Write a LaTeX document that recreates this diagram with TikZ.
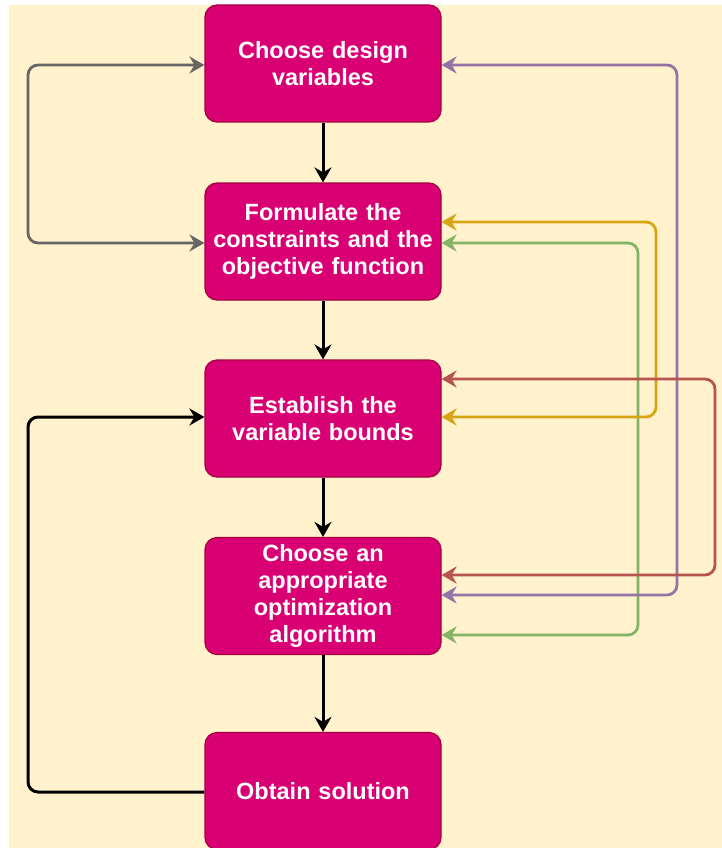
\documentclass[tikz,border=0pt]{standalone}
\usepackage{fontspec}
\setmainfont{Liberation Sans}
\usetikzlibrary{arrows.meta}

\definecolor{paper}{HTML}{FFF2CC}
\definecolor{boxfill}{HTML}{D80073}
\definecolor{boxedge}{HTML}{A50040}
\definecolor{loopgray}{HTML}{666666}
\definecolor{loopviolet}{HTML}{9673A6}
\definecolor{loopgold}{HTML}{D7A514}
\definecolor{loopgreen}{HTML}{82B366}
\definecolor{looprust}{HTML}{B85450}

\tikzset{
  stepbox/.style={rectangle, rounded corners=12pt, fill=boxfill, draw=boxedge,
    line width=1.2pt, minimum width=236pt, minimum height=117pt, inner sep=0pt,
    text width=232pt, align=center, text=white,
    font=\bfseries\fontsize{23.5}{27}\selectfont},
  tip/.tip={Stealth[length=15pt, width=17pt, inset=5pt]},
  flow/.style={line width=3pt, black, -tip},
  feedback/.style={line width=2.8pt, rounded corners=10pt, tip-tip},
}

\begin{document}
\begin{tikzpicture}[x=1pt, y=-1pt]
  \clip (0,0) rectangle (722,848);
  \fill[white] (0,0) rectangle (722,848);
  \fill[paper] (9,5) rectangle (722,848);

  % process steps
  \node[stepbox] (b1) at (323,63.5) {Choose design\\variables};
  \node[stepbox] (b2) at (323,241.5) {Formulate the\\constraints and the\\objective function};
  \node[stepbox] (b3) at (323,418.5) {Establish the\\variable bounds};
  \node[stepbox] (b4) at (323,596) {Choose an\\appropriate\\optimization\\algorithm};
  \node[stepbox] (b5) at (323,791) {Obtain solution};

  % main flow
  \draw[flow] (b1.south) -- (b2.north);
  \draw[flow] (b2.south) -- (b3.north);
  \draw[flow] (b3.south) -- (b4.north);
  \draw[flow] (b4.south) -- (b5.north);

  % feedback loops
  \draw[feedback, loopgray] (b1.west |- 0,65) -- (28,65) -- (28,243) -- (b2.west |- 0,243);
  \draw[feedback, loopgreen] (b2.east |- 0,243) -- (638,243) -- (638,635) -- (b4.east |- 0,635);
  \draw[feedback, loopgold] (b2.east |- 0,222) -- (656,222) -- (656,417) -- (b3.east |- 0,417);
  \draw[feedback, loopviolet] (b4.east |- 0,595) -- (677,595) -- (677,65) -- (b1.east |- 0,65);
  \draw[feedback, looprust] (b3.east |- 0,379) -- (715,379) -- (715,575) -- (b4.east |- 0,575);
  \draw[line width=3pt, black, rounded corners=10pt, -tip]
    (b5.west |- 0,792) -- (28,792) -- (28,417) -- (b3.west |- 0,417);
\end{tikzpicture}
\end{document}
